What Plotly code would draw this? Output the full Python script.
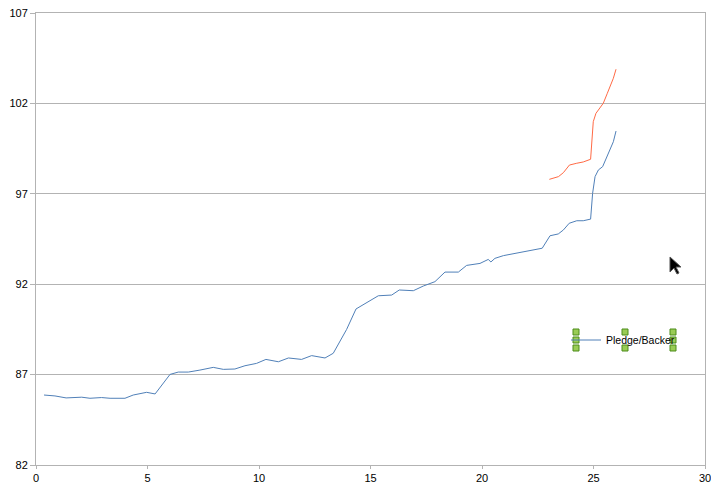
import plotly.graph_objects as go

# Series: Pledge/Backer (blue)
blue_x = [0.36, 0.85, 1.35, 2.05, 2.42, 2.94, 3.32, 3.99, 4.36, 4.96, 5.34, 6.01, 6.38, 6.83,
          7.35, 7.95, 8.4, 8.92, 9.37, 9.89, 10.31, 10.87, 11.32, 11.91, 12.36, 12.96, 13.33,
          13.93, 14.35, 14.83, 15.35, 15.95, 16.29, 16.92, 17.37, 17.89, 18.34, 18.94, 19.31,
          19.91, 20.28, 20.4, 20.58, 20.96, 21.56, 22.15, 22.7, 23.05, 23.42, 23.65, 23.91,
          24.25, 24.54, 24.87, 24.96, 25.07, 25.22, 25.41, 25.59, 25.74, 25.89, 26.01]
blue_y = [85.87, 85.82, 85.71, 85.75, 85.69, 85.73, 85.69, 85.69, 85.87, 86.02, 85.93, 87.01,
          87.14, 87.14, 87.25, 87.40, 87.29, 87.31, 87.49, 87.62, 87.84, 87.71, 87.92, 87.84,
          88.05, 87.92, 88.18, 89.50, 90.63, 90.98, 91.36, 91.40, 91.68, 91.64, 91.90, 92.14,
          92.67, 92.67, 93.04, 93.15, 93.37, 93.23, 93.43, 93.58, 93.71, 93.85, 93.99, 94.68,
          94.78, 95.00, 95.37, 95.51, 95.51, 95.60, 97.03, 97.95, 98.32, 98.50, 99.05, 99.42,
          99.88, 100.47]

# Second series (orange)
orange_x = [23.02, 23.43, 23.65, 23.92, 24.25, 24.54, 24.87, 24.92, 24.99, 25.11, 25.26,
            25.44, 25.62, 25.81, 25.89, 26.01]
orange_y = [97.80, 97.95, 98.17, 98.59, 98.69, 98.76, 98.91, 99.98, 100.99, 101.45, 101.73,
            102.01, 102.56, 103.11, 103.39, 103.89]

x_ticks = [0, 5, 10, 15, 20, 25, 30]
y_ticks = [82, 87, 92, 97, 102, 107]

W, H = 711, 485
ML, MR, MT, MB = 36, 6, 13, 20
PW, PH = W - ML - MR, H - MT - MB


def px(x):
    return (x - ML) / PW


def py(y):
    return (H - MB - y) / PH


fig = go.Figure()
fig.add_trace(go.Scatter(x=blue_x, y=blue_y, mode="lines", name="Pledge/Backer",
                         line=dict(color="#5080b8", width=1)))
fig.add_trace(go.Scatter(x=orange_x, y=orange_y, mode="lines", name="Series 2",
                         showlegend=False, line=dict(color="#ff6a45", width=1)))

grid = "#b3b3b3"
fig.update_layout(
    width=W, height=H,
    margin=dict(l=ML, r=MR, t=MT, b=MB, autoexpand=False),
    paper_bgcolor="white", plot_bgcolor="white",
    font=dict(family="Liberation Sans, Arial, sans-serif", size=11, color="black"),
    xaxis=dict(range=[0, 30], tickvals=x_ticks, showgrid=False, zeroline=False,
               showline=True, linecolor=grid, linewidth=1, mirror=True,
               ticks="outside", ticklen=3, tickcolor=grid, automargin=False,
               ticklabelstandoff=0, ticklabeloverflow="allow"),
    yaxis=dict(range=[82, 107], tickvals=y_ticks, showgrid=True, gridcolor=grid,
               zeroline=False, showline=True, linecolor=grid, linewidth=1, mirror=True,
               ticks="outside", ticklen=5, tickcolor=grid, automargin=False,
               ticklabelstandoff=0, ticklabeloverflow="allow"),
    legend=dict(x=px(566), y=py(340), xanchor="left", yanchor="middle",
                bgcolor="rgba(0,0,0,0)", font=dict(size=10.5),
                tracegroupgap=0),
    showlegend=True,
)

# selection handles around the legend (decoration)
shapes = []
for hx, hy in [(576, 332), (576, 340), (576, 348), (625, 332), (625, 348),
               (673, 332), (673, 340), (673, 348)]:
    shapes.append(dict(type="rect", xref="paper", yref="paper",
                       x0=px(hx - 3), x1=px(hx + 3), y0=py(hy + 3), y1=py(hy - 3),
                       fillcolor="#99cc55", line=dict(color="#4d8c1a", width=1)))

# mouse pointer (decoration)
cx, cy = 670, 257
pts = [(0, 0), (0, 15), (4, 11), (7, 17), (9, 16), (6, 10), (11, 10)]
path = "M " + " L ".join(f"{px(cx + a):.5f},{py(cy + b):.5f}" for a, b in pts) + " Z"
shapes.append(dict(type="path", xref="paper", yref="paper", path=path,
                   fillcolor="black", line=dict(color="#555555", width=1)))
fig.update_layout(shapes=shapes)

fig.write_html("out.html",
               config={"displayModeBar": False},
               post_script="document.body.style.margin='0';"
                           "document.body.style.overflow='hidden';")
